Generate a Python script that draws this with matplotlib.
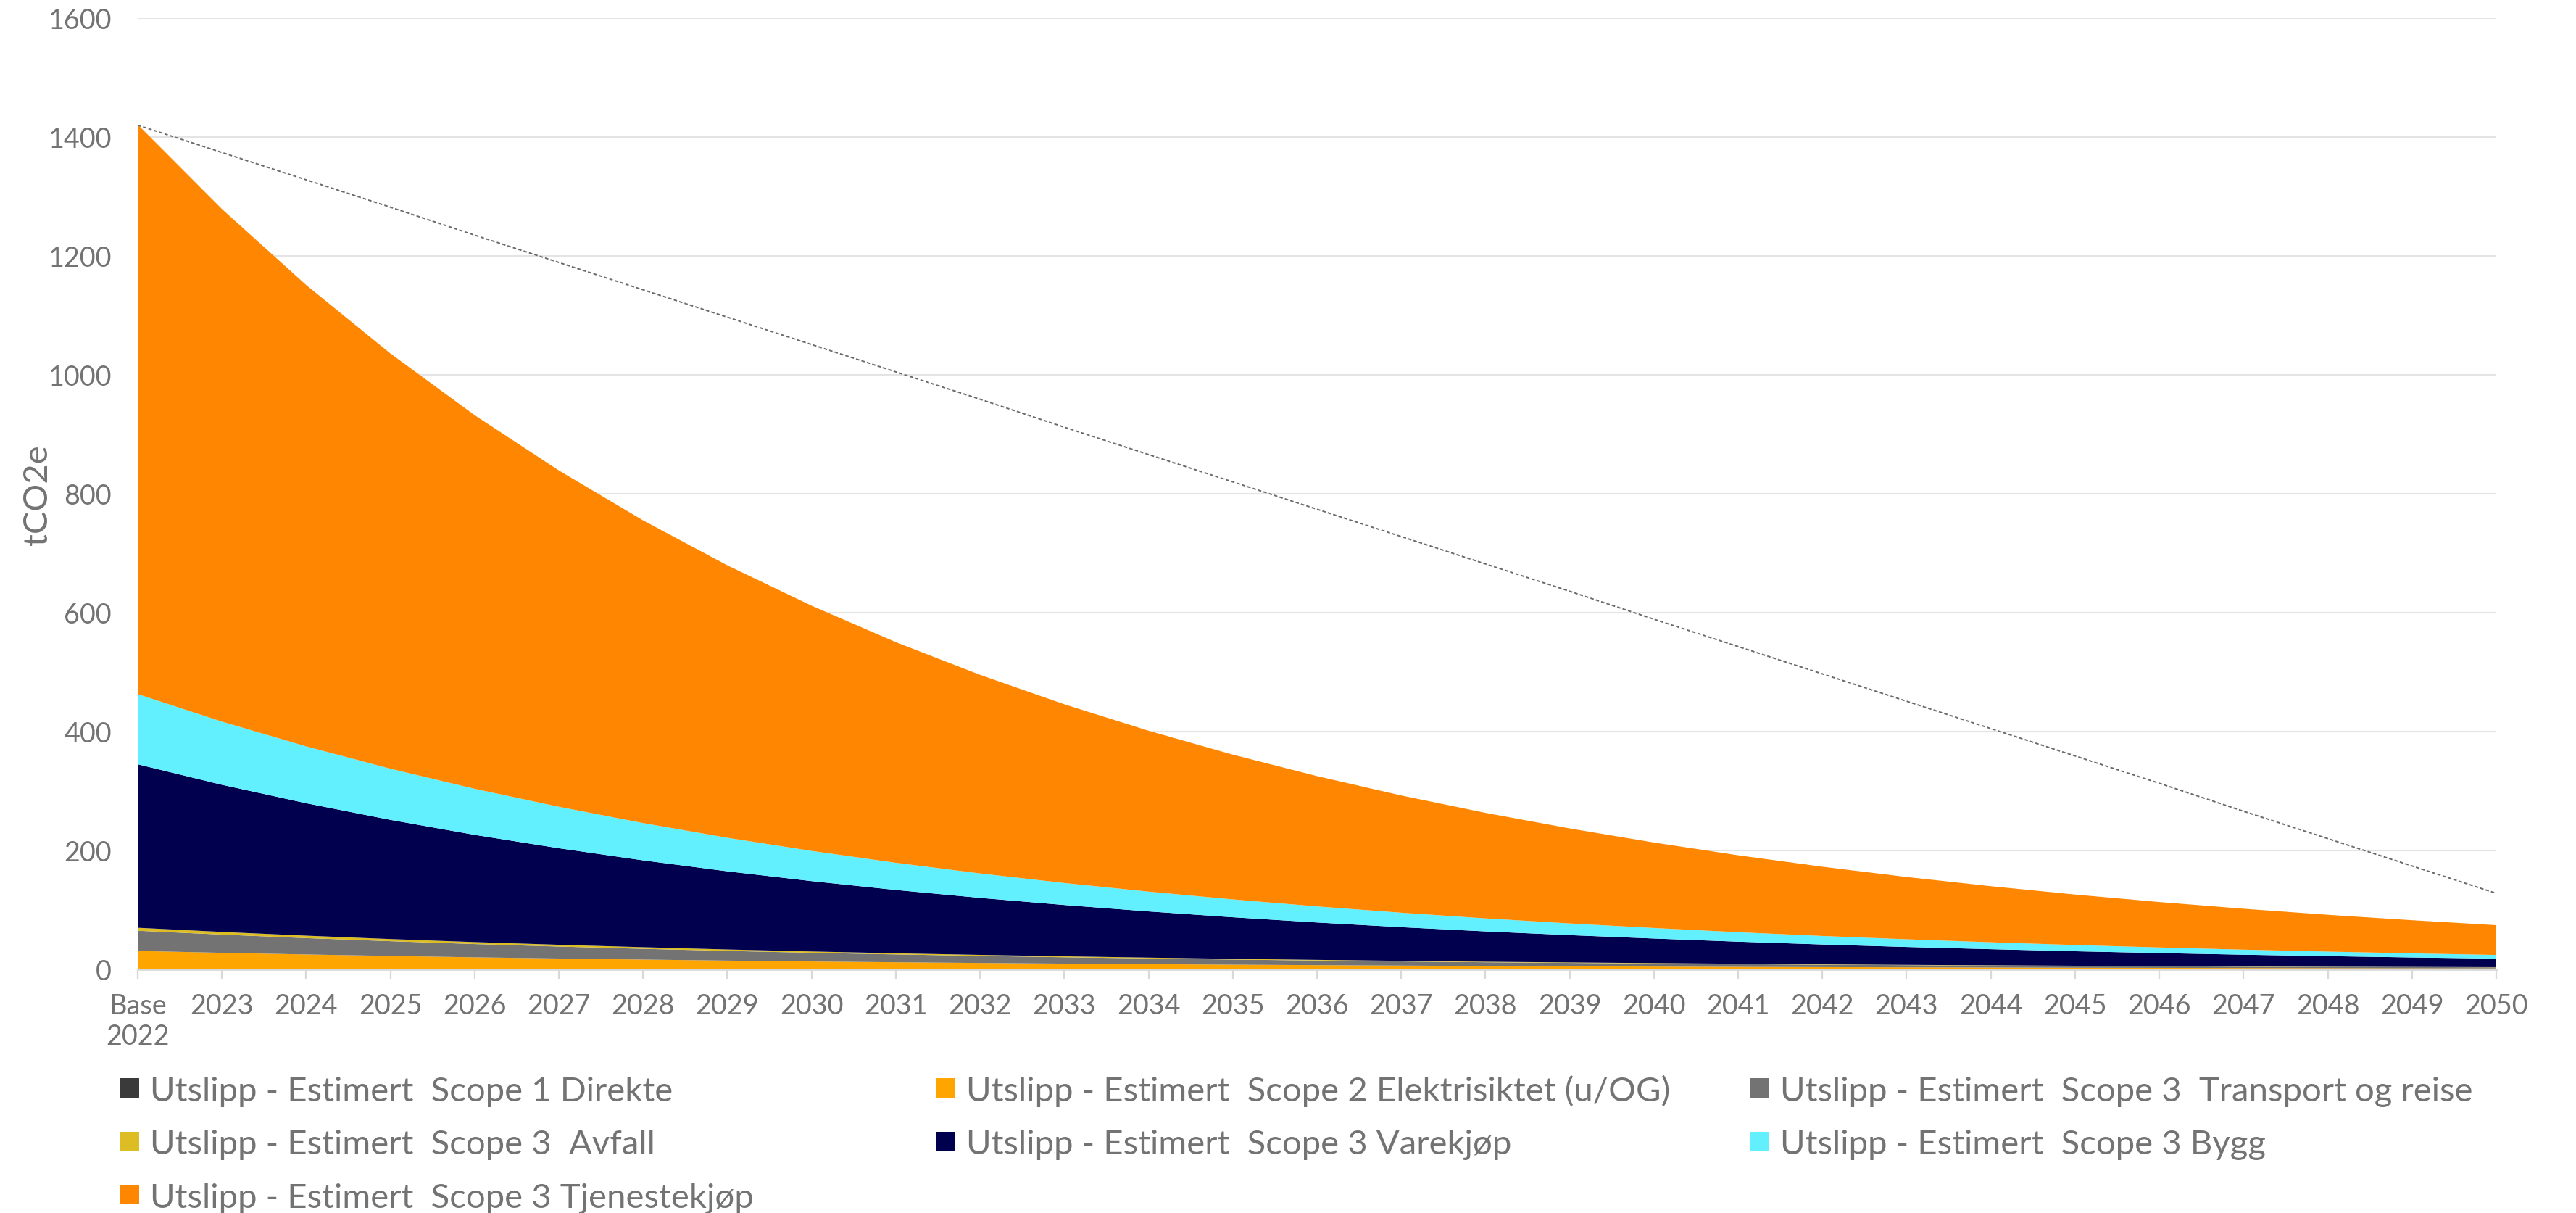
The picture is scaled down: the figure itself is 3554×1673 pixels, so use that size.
import matplotlib
matplotlib.use("Agg")
import matplotlib.pyplot as plt
from matplotlib.patches import Rectangle

plt.rcParams['font.family'] = ['Lato', 'DejaVu Sans']

# Categories along the x axis
years = ["Base\n2022", "2023", "2024", "2025", "2026", "2027", "2028", "2029",
         "2030", "2031", "2032", "2033", "2034", "2035", "2036", "2037", "2038",
         "2039", "2040", "2041", "2042", "2043", "2044", "2045", "2046", "2047",
         "2048", "2049", "2050"]

# Estimated emissions per category (tCO2e)
scope1_direkte = [0, 0, 0, 0, 0, 0, 0, 0, 0, 0, 0, 0, 0, 0, 0, 0, 0, 0, 0,
                  0, 0, 0, 0, 0, 0, 0, 0, 0, 0]
scope2_elektrisitet = [31.0, 27.9, 25.1, 22.6, 20.3, 18.3, 16.5, 14.8, 13.3, 12.0,
                       10.8, 9.7, 8.8, 7.9, 7.1, 6.4, 5.7, 5.2, 4.7, 4.2,
                       3.8, 3.4, 3.1, 2.7, 2.5, 2.2, 2.0, 1.8, 1.6]
scope3_transport = [34.0, 30.6, 27.5, 24.8, 22.3, 20.1, 18.1, 16.3, 14.6, 13.2,
                    11.9, 10.7, 9.6, 8.6, 7.8, 7.0, 6.3, 5.7, 5.1, 4.6,
                    4.1, 3.7, 3.3, 3.0, 2.7, 2.4, 2.2, 2.0, 1.8]
scope3_avfall = [5.0, 4.5, 4.1, 3.6, 3.3, 3.0, 2.7, 2.4, 2.2, 1.9,
                 1.7, 1.6, 1.4, 1.3, 1.1, 1.0, 0.9, 0.8, 0.8, 0.7,
                 0.6, 0.5, 0.5, 0.4, 0.4, 0.4, 0.3, 0.3, 0.3]
scope3_varekjop = [275.0, 247.5, 222.8, 200.5, 180.4, 162.4, 146.1, 131.5, 118.4, 106.5,
                   95.9, 86.3, 77.7, 69.9, 62.9, 56.6, 51.0, 45.9, 41.3, 37.1,
                   33.4, 30.1, 27.1, 24.4, 21.9, 19.7, 17.8, 16.0, 14.4]
scope3_bygg = [118.0, 106.2, 95.6, 86.0, 77.4, 69.7, 62.7, 56.4, 50.8, 45.7,
               41.1, 37.0, 33.3, 30.0, 27.0, 24.3, 21.9, 19.7, 17.7, 15.9,
               14.3, 12.9, 11.6, 10.5, 9.4, 8.5, 7.6, 6.9, 6.2]
scope3_tjenestekjop = [958.0, 862.2, 776.0, 698.4, 628.5, 565.7, 509.1, 458.2, 412.4, 371.1,
                       334.0, 300.6, 270.6, 243.5, 219.2, 197.2, 177.5, 159.8, 143.8, 129.4,
                       116.5, 104.8, 94.3, 84.9, 76.4, 68.8, 61.9, 55.7, 50.1]

# Reduction path (dotted line)
target_path = [1420, 1374, 1328, 1282, 1235, 1189, 1143, 1097, 1051, 1005,
               959, 912, 866, 820, 774, 728, 682, 636, 589, 543,
               497, 451, 405, 359, 313, 266, 220, 174, 128]

labels = [
    "Utslipp - Estimert  Scope 1 Direkte",
    "Utslipp - Estimert  Scope 2 Elektrisiktet (u/OG)",
    "Utslipp - Estimert  Scope 3  Transport og reise",
    "Utslipp - Estimert  Scope 3  Avfall",
    "Utslipp - Estimert  Scope 3 Varekjøp",
    "Utslipp - Estimert  Scope 3 Bygg",
    "Utslipp - Estimert  Scope 3 Tjenestekjøp",
]
colors = ["#3a3a3a", "#ffa500", "#737373", "#dcbe24", "#00004f", "#62f0ff", "#ff8600"]
series = [scope1_direkte, scope2_elektrisitet, scope3_transport, scope3_avfall,
          scope3_varekjop, scope3_bygg, scope3_tjenestekjop]

TEXT = "#737373"
GRID = "#e4e4e4"

W, H = 3555, 1674
DPI = 200
fig = plt.figure(figsize=(W / DPI, H / DPI), dpi=DPI)
left, right, bottom, top = 190 / W, 3444 / W, 1 - 1338 / H, 1 - 26 / H
ax = fig.add_axes([left, bottom, right - left, top - bottom])

x = list(range(len(years)))
ax.stackplot(x, *series, colors=colors, linewidth=0, zorder=2)
ax.plot(x, target_path, color="#6a6a6a", lw=0.7, ls=(0, (2.4, 1.6)), zorder=3)

ax.set_xlim(0, len(years) - 1)
ax.set_ylim(0, 1600)
ax.set_yticks(range(0, 1601, 200))
ax.set_xticks(x)
ax.set_xticklabels(years)

ax.grid(axis="y", color=GRID, lw=0.75, zorder=0)
ax.set_axisbelow(True)
for s in ("top", "right", "left"):
    ax.spines[s].set_visible(False)
ax.spines["bottom"].set_color("#d9d9d9")
ax.spines["bottom"].set_linewidth(1.0)
ax.spines["bottom"].set_zorder(1)

ax.tick_params(axis="y", length=0, pad=13, labelsize=13.6, labelcolor=TEXT)
ax.tick_params(axis="x", length=4.7, width=0.8, color="#d9d9d9", pad=7,
               labelsize=13.6, labelcolor=TEXT)

fig.text(52 / W, 1 - 683 / H, "tCO2e", rotation=90, ha="center", va="center",
         fontsize=17, color=TEXT)

# Legend laid out in three columns below the plot
col_x = [165, 1291, 2414]
row_base = [1519, 1592.5, 1666]
box = 26.7
for i, (lab, col) in enumerate(zip(labels, colors)):
    r, c = divmod(i, 3)
    x0 = col_x[c]
    yb = row_base[r]
    fig.patches.append(Rectangle((x0 / W, 1 - (yb - 4) / H), box / W, box / H,
                                 transform=fig.transFigure, facecolor=col,
                                 edgecolor="none"))
    fig.text((x0 + 41.7) / W, 1 - yb / H, lab, ha="left", va="baseline",
             fontsize=17, color=TEXT)

fig.savefig("out.png", dpi=DPI, facecolor="white")
